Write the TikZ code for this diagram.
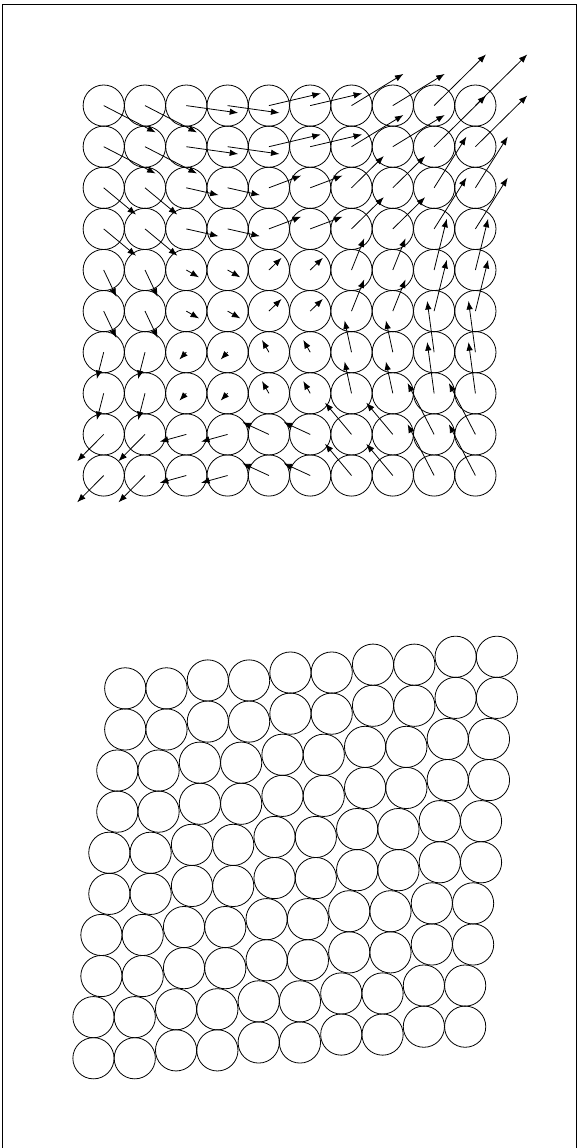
\documentclass[tikz,border=0pt]{standalone}
\usetikzlibrary{arrows.meta}
\tikzset{
  ball/.style={draw, circle, minimum size=41.2pt, inner sep=0pt, line width=0.8pt},
  vec/.style={line width=0.8pt, -{Latex[length=8.5pt,width=6.5pt]}},
  frame/.style={line width=1pt}
}
\begin{document}
\begin{tikzpicture}[x=1pt,y=-1pt]
\useasboundingbox (0,0) rectangle (578,1148);
\draw[frame] (2.6,1152) -- (2.6,4.6) -- (576.4,4.6) -- (576.4,1152);
\foreach \i in {0,...,9}{
  \foreach \j in {0,...,9}{
    \pgfmathtruncatemacro\BI{\i/2}
    \pgfmathtruncatemacro\BJ{\j/2}
    \pgfmathsetmacro\vx{51.9-19.6*\BJ}
    \pgfmathsetmacro\vy{26.8-19.5*\BI}
    \pgfmathsetmacro\px{103.7+41.3*\i}
    \pgfmathsetmacro\py{105.6+41.1*\j}
    \node[ball] (a-\i-\j) at (\px,\py) {};
    \coordinate (t-\i-\j) at (\px+\vx,\py+\vy);
    \node[ball] (b-\i-\j) at (\px+0.5+0.405*\vx,\py+571.9+0.405*\vy) {};
  }
}
\foreach \i in {0,...,9}{
  \foreach \j in {0,...,9}{
    \draw[vec] (a-\i-\j.center) -- (t-\i-\j);
  }
}
\end{tikzpicture}
\end{document}
